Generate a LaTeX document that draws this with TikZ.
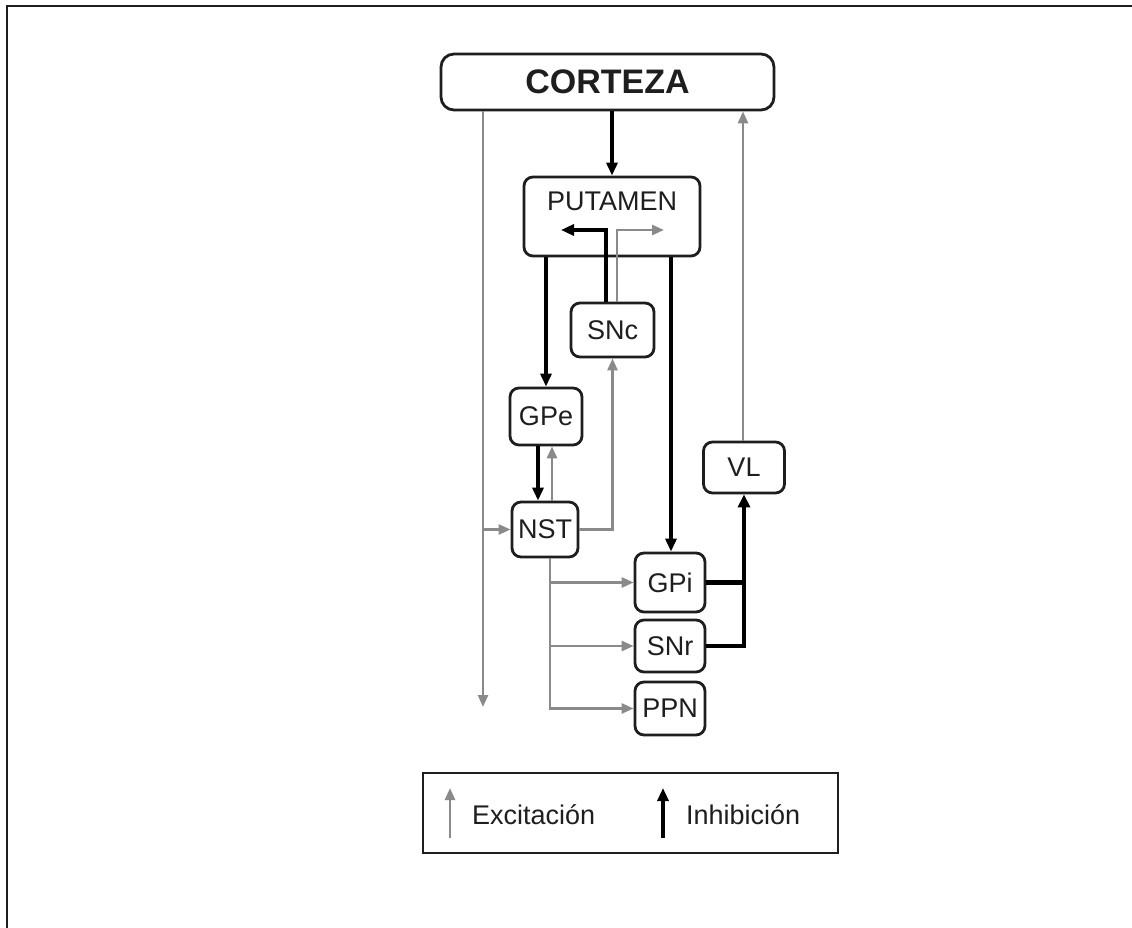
\documentclass[tikz,border=0pt]{standalone}
\usepackage{fontspec}
\setmainfont{Liberation Sans}
\usetikzlibrary{arrows.meta,calc}
\definecolor{excgray}{HTML}{8A8A8A}
\definecolor{boxline}{HTML}{1E1E1E}
\begin{document}
\begin{tikzpicture}[x=1pt,y=-1pt,
  nbox/.style={draw=boxline,line width=2.8pt,rounded corners=9pt,inner sep=0pt,
    text=boxline,font=\fontsize{27}{30}\selectfont},
  exc/.style={draw=excgray,line width=2.6pt,-{Triangle[length=12pt,width=10pt]}},
  inh/.style={draw=black,line width=3.2pt,-{Triangle[length=13pt,width=11pt]}},
  lbl/.style={inner sep=0pt,text=boxline,font=\fontsize{27}{30}\selectfont},
]
\useasboundingbox (0,0) rectangle (1132,928);
\fill[white] (0,0) rectangle (1132,928);
% frame
\draw[boxline,line width=2.4pt] (1132,6) -- (7,6) -- (7,928);

% nodes
\node[nbox,rounded corners=13pt,minimum width=333pt,minimum height=56pt,
  font=\fontsize{34}{36}\selectfont\bfseries] (cortex) at (607.5,82) {CORTEZA};
\node[nbox,minimum width=176pt,minimum height=79pt] (putamen) at (612,216.5) {};
\node[lbl] (putlabel) at (612,201) {PUTAMEN};
\node[nbox,minimum width=83pt,minimum height=54pt] (snc) at (612.5,330) {SNc};
\node[nbox,minimum width=72pt,minimum height=57pt] (gpe) at (546,416.5) {GPe};
\node[nbox,minimum width=66pt,minimum height=55pt] (nst) at (545,529.5) {NST};
\node[nbox,minimum width=81pt,minimum height=51pt] (vl) at (744,467.5) {VL};
\node[nbox,minimum width=70pt,minimum height=59pt] (gpi) at (670,582.5) {GPi};
\node[nbox,minimum width=70pt,minimum height=52pt] (snr) at (670,646) {SNr};
\node[nbox,minimum width=70pt,minimum height=53pt] (ppn) at (670,708.5) {PPN};

% cortex -> putamen
\draw[inh] (cortex.south -| putamen.north) -- (putamen.north);
% cortex -> down (gray), and branch to NST
\coordinate (cxend) at (483,707);
\draw[exc] (cortex.south -| cxend) -- (cxend);
\draw[exc] (cxend |- nst.west) -- (nst.west);
% VL -> cortex
\draw[exc] ([xshift=-1pt]vl.north) -- ([xshift=-1pt]vl.north |- cortex.south);

% SNc -> putamen (inside)
\coordinate (sncB) at (606,230);
\coordinate (sncBend) at (561,230);
\coordinate (sncG) at (617,230);
\coordinate (sncGend) at (664,230);
\draw[inh] (snc.north -| sncB) -- (sncB) -- (sncBend);
\draw[exc] (snc.north -| sncG) -- (sncG) -- (sncGend);

% putamen -> GPe, GPi
\draw[inh] (putamen.south -| gpe.north) -- (gpe.north);
\draw[inh] ([xshift=1pt]putamen.south -| gpi.north) -- ([xshift=1pt]gpi.north);

% GPe <-> NST
\draw[inh] ([xshift=-8pt]gpe.south) -- ([xshift=-7pt]nst.north);
\draw[exc] ([xshift=7pt]nst.north) -- ([xshift=6pt]gpe.south);

% NST -> SNc
\draw[exc] (nst.east) -| (snc.south);

% NST -> GPi, SNr, PPN
\coordinate (nstb) at ([xshift=5pt]nst.south);
\draw[exc] (nstb) |- (ppn.west);
\draw[exc] (nstb |- gpi.west) -- (gpi.west);
\draw[exc] (nstb |- snr.west) -- (snr.west);

% GPi, SNr -> VL
\draw[draw=black,line width=5pt] (gpi.east) -- ([xshift=1.5pt]gpi.east -| vl.south);
\draw[draw=black,line width=4pt] (snr.east) -| ([yshift=-1pt]gpi.east -| vl.south);
\draw[black,line width=3.6pt,-{Triangle[length=13pt,width=12pt]}] ([yshift=1pt]snr.east -| vl.south) -- (vl.south);

% legend
\node[draw=boxline,line width=2.8pt,minimum width=415pt,minimum height=80pt,inner sep=0pt]
  (legend) at (630.5,813) {};
\coordinate (exbot) at (450,838);
\coordinate (extop) at (450,788);
\coordinate (inbot) at (663,838);
\coordinate (intop) at (663,788);
\draw[exc] (exbot) -- (extop);
\draw[inh] (inbot) -- (intop);
\node[lbl,anchor=west] (exlabel) at (472,815) {Excitación};
\node[lbl,anchor=west] (inlabel) at (686,815) {Inhibición};
\end{tikzpicture}
\end{document}
